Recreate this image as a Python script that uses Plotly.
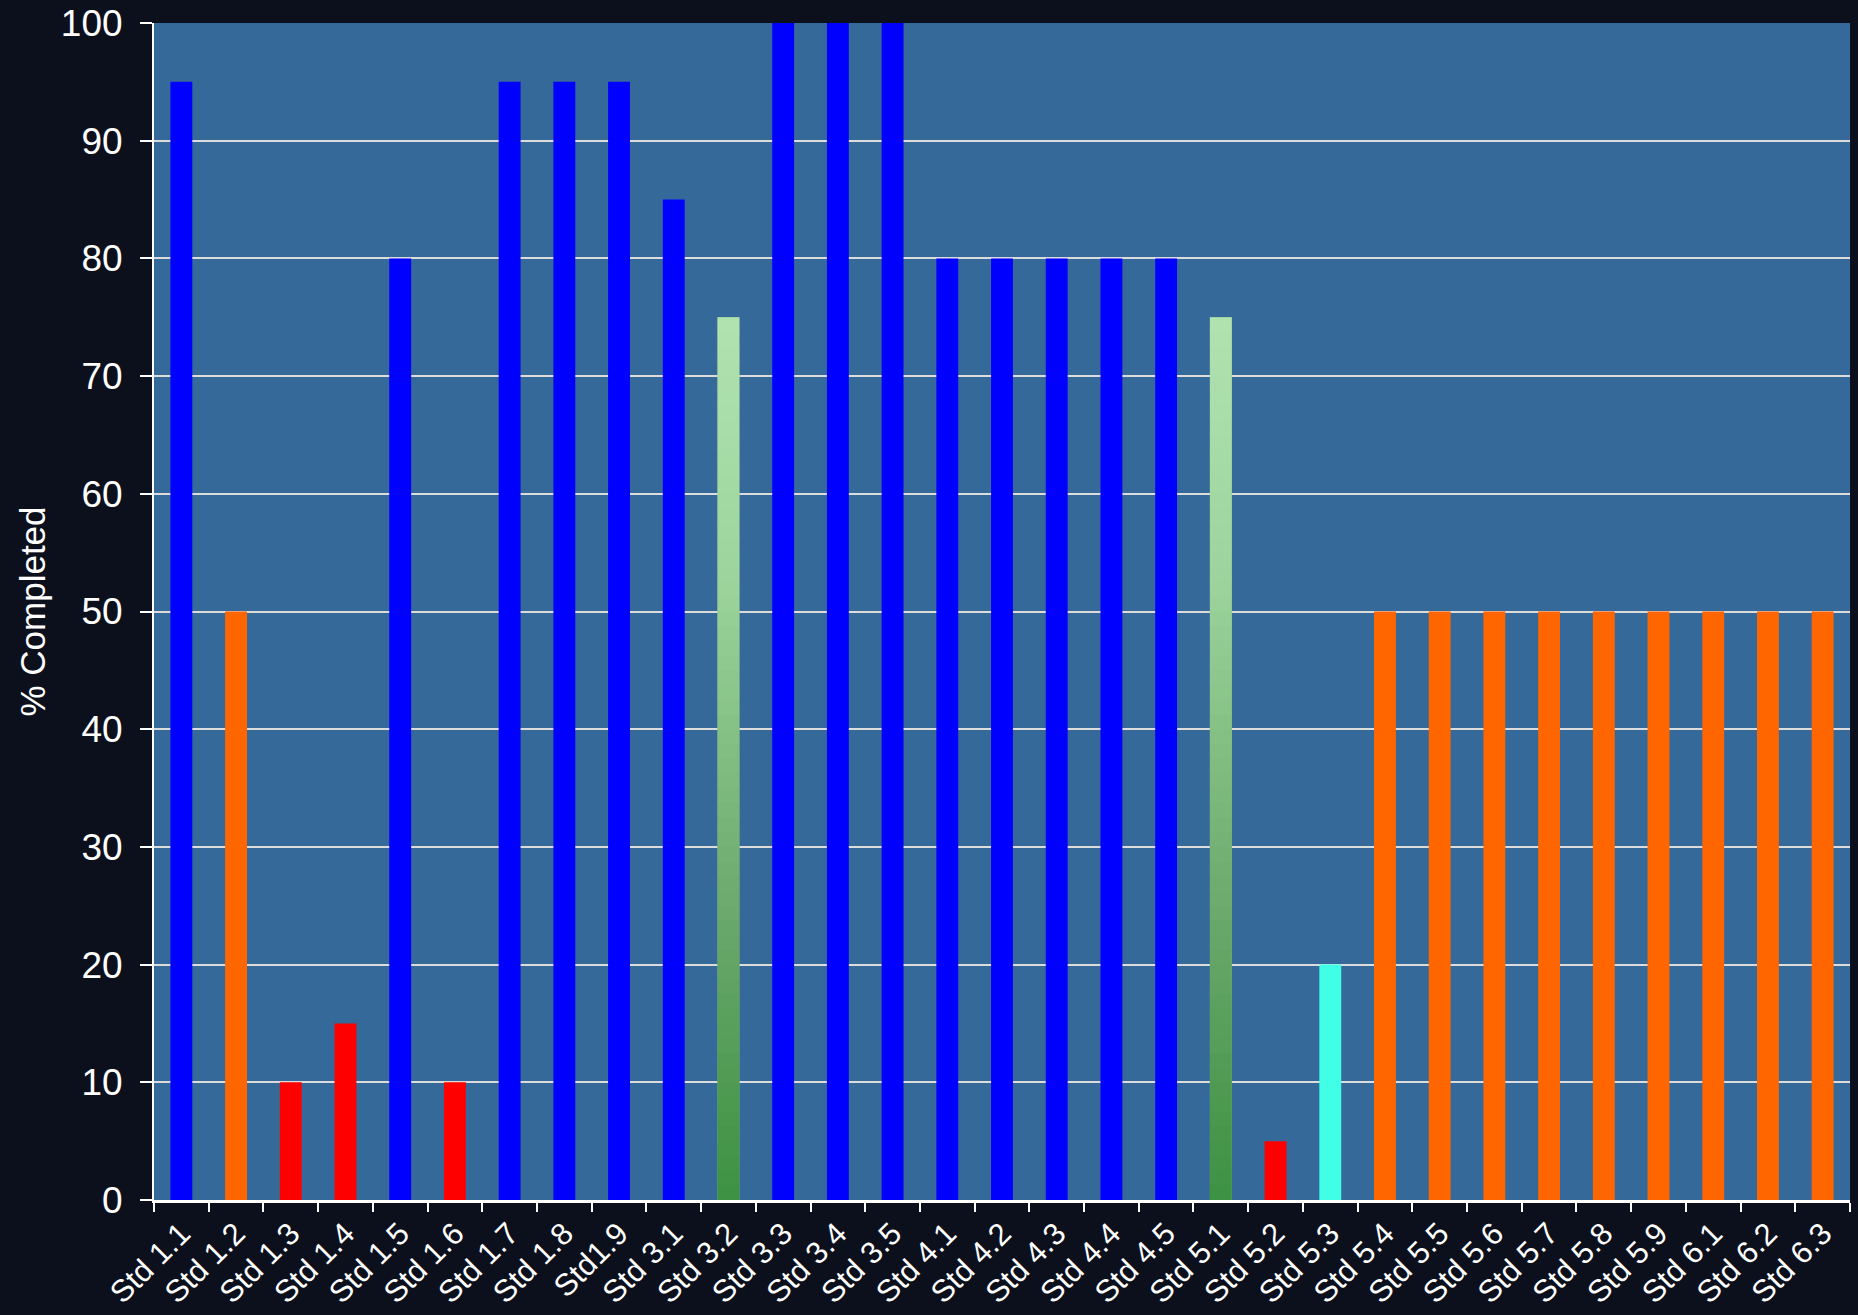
import plotly.graph_objects as go

categories = ["Std 1.1", "Std 1.2", "Std 1.3", "Std 1.4", "Std 1.5", "Std 1.6", "Std 1.7",
              "Std 1.8", "Std1.9", "Std 3.1", "Std 3.2", "Std 3.3", "Std 3.4", "Std 3.5",
              "Std 4.1", "Std 4.2", "Std 4.3", "Std 4.4", "Std 4.5", "Std 5.1", "Std 5.2",
              "Std 5.3", "Std 5.4", "Std 5.5", "Std 5.6", "Std 5.7", "Std 5.8", "Std 5.9",
              "Std 6.1", "Std 6.2", "Std 6.3"]
values = [95, 50, 10, 15, 80, 10, 95, 95, 95, 85, 75, 100, 100, 100,
          80, 80, 80, 80, 80, 75, 5, 20, 50, 50, 50, 50, 50, 50, 50, 50, 50]
status = ["blue", "orange", "red", "red", "blue", "red", "blue", "blue", "blue", "blue",
          "green", "blue", "blue", "blue", "blue", "blue", "blue", "blue", "blue",
          "green", "red", "cyan", "orange", "orange", "orange", "orange", "orange",
          "orange", "orange", "orange", "orange"]

palette = {"blue": "#0000FF", "orange": "#FF6600", "red": "#FF0000",
           "cyan": "#40FFE6", "green": "#82BE82"}
# gradient stops for the green bars (fraction of bar height -> colour)
grad_stops = [(0.0, (61, 145, 66)), (0.32, (106, 168, 108)), (0.51, (130, 190, 130)),
              (0.7, (156, 212, 156)), (1.0, (176, 226, 176))]

FONT = "Arial, Liberation Sans, sans-serif"
BAR_W = 0.4


def grad_color(f):
    for (f0, c0), (f1, c1) in zip(grad_stops[:-1], grad_stops[1:]):
        if f0 <= f <= f1:
            t = (f - f0) / (f1 - f0)
            c = [round(a + (b - a) * t) for a, b in zip(c0, c1)]
            return "rgb({},{},{})".format(*c)
    c = grad_stops[-1][1]
    return "rgb({},{},{})".format(*c)


fig = go.Figure()
fig.add_trace(go.Bar(
    x=categories, y=values, width=BAR_W,
    marker=dict(color=[palette[s] for s in status], line=dict(width=0)),
    hoverinfo="x+y", showlegend=False,
))

# gradient overlay for the green bars, built as thin stacked slices
green_x = [c for c, s in zip(categories, status) if s == "green"]
green_v = [v for v, s in zip(values, status) if s == "green"]
N = 60
for i in range(N):
    f = (i + 0.5) / N
    fig.add_trace(go.Bar(
        x=green_x,
        y=[v / N * 1.05 if i < N - 1 else v / N for v in green_v],
        base=[v * i / N for v in green_v],
        width=BAR_W,
        marker=dict(color=grad_color(f), line=dict(width=0)),
        hoverinfo="skip", showlegend=False,
    ))

fig.update_layout(
    width=1858, height=1315,
    barmode="overlay",
    paper_bgcolor="#0C101C",
    plot_bgcolor="#35699A",
    margin=dict(l=154, r=8, t=23, b=115, autoexpand=False),
    font=dict(family=FONT, color="white"),
    xaxis=dict(
        type="category", tickson="boundaries", ticks="outside", ticklen=9,
        tickwidth=2, tickcolor="white", showline=True, linecolor="white",
        linewidth=3, showgrid=False, tickangle=-45,
        tickfont=dict(size=31, family=FONT, color="white"),
        range=[-0.5, len(categories) - 0.5], automargin=False,
    ),
    yaxis=dict(
        range=[0, 100], dtick=10, ticks="outside", ticklen=12, tickwidth=2,
        tickcolor="white", showline=True, linecolor="white", linewidth=2,
        showgrid=True, gridcolor="#DCDCDC", gridwidth=2, zeroline=False,
        tickfont=dict(size=37, family=FONT, color="white"),
        ticklabelstandoff=10, automargin=False,
        title=dict(text="% Completed", font=dict(size=35, family=FONT, color="white"),
                   standoff=5),
    ),
)

fig.write_html(
    "out.html",
    config={"displayModeBar": False},
    post_script="document.body.style.margin='0';document.body.style.background='#0C101C';",
)
